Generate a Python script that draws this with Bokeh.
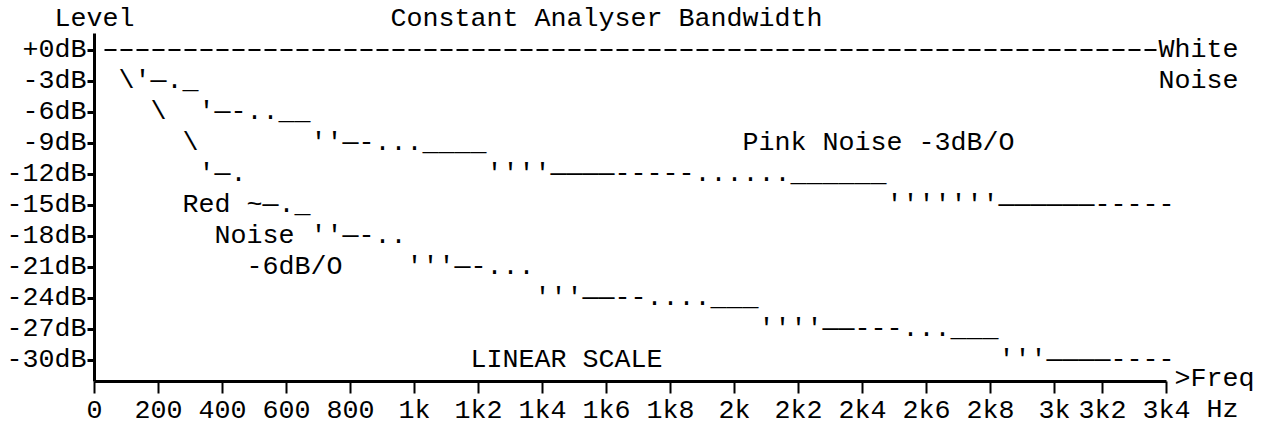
from bokeh.plotting import figure
from bokeh.models import FixedTicker, Range1d, ColumnDataSource, Label
from bokeh.core.properties import value
from bokeh.embed import file_html
from bokeh.resources import INLINE

# ---------------- data ----------------
ytick_db = [0, -3, -6, -9, -12, -15, -18, -21, -24, -27, -30]
ytick_lab = ["+0dB", "-3dB", "-6dB", "-9dB", "-12dB", "-15dB", "-18dB",
             "-21dB", "-24dB", "-27dB", "-30dB"]

xtick_hz = [0, 200, 400, 600, 800, 1000, 1200, 1400, 1600, 1800, 2000,
            2200, 2400, 2600, 2800, 3000, 3150, 3350]
xtick_lab = ["0", "200", "400", "600", "800", "1k", "1k2", "1k4", "1k6", "1k8",
             "2k", "2k2", "2k4", "2k6", "2k8", "3k", "3k2", "3k4"]

# level at which the frequency axis is drawn, top end of the level axis
x_axis_db = -32.1
y_axis_top_db = 1.6

# White noise: flat at 0 dB
white_hz = [50, 3300]
white_db = [0, 0]

# Pink noise -3dB/O (ASCII-art segments: start frequency, level, glyphs)
pink_hz = [150, 350, 700, 1250, 2500]
pink_db = [-3, -6, -9, -12, -15]
pink_txt = ["'\u2014._", "'\u2014-..__", "''\u2014-...____",
            "''''\u2014\u2014\u2014\u2014-----......______",
            "'''''''\u2014\u2014\u2014\u2014\u2014\u2014-----"]

# Red noise -6dB/O
red_hz = [100, 200, 300, 350, 500, 700, 1000, 1400, 2100, 2850]
red_db = [-3, -6, -9, -12, -15, -18, -21, -24, -27, -30]
red_txt = ["\\", "\\", "\\", "'\u2014.", "~\u2014._", "''\u2014-..", "'''\u2014-...",
           "'''\u2014\u2014--....___", "''''\u2014\u2014---...___",
           "'''\u2014\u2014\u2014\u2014----"]

# Curve annotations
note_hz = [3350, 3350, 2050, 300, 400, 500, 1200]
note_db = [0, -3, -9, -15, -18, -21, -30]
note_txt = ["White", "Noise", "Pink Noise -3dB/O", "Red", "Noise", "-6dB/O",
            "LINEAR SCALE"]

title_txt = "Constant Analyser Bandwidth"
title_hz, title_db = 1600, 3
ylabel_txt = "Level"
xlabel_txt = ">Freq"
xlabel_hz = 3400
xunit_txt = "Hz"
xunit_hz = 3500

# ---------------- style ----------------
FONT = "Liberation Mono"
FONT_PX = 26.67
FS = "%.2fpx" % FONT_PX
CHAR_W = 0.6 * FONT_PX
INK = "#000000"

W, H = 1268, 425
ORIGIN_X_PX = 94      # where 0 Hz sits
ZERO_DB_PX = 49.5     # where 0 dB sits (from top)
PX_PER_HZ = 0.32
PX_PER_DB = 31 / 3

x_range = Range1d(-ORIGIN_X_PX / PX_PER_HZ, (W - ORIGIN_X_PX) / PX_PER_HZ)
y_range = Range1d(-(H - ZERO_DB_PX) / PX_PER_DB, ZERO_DB_PX / PX_PER_DB)

p = figure(width=W, height=H, x_range=x_range, y_range=y_range,
           output_backend="svg", toolbar_location=None, title=None,
           min_border_left=0, min_border_right=0,
           min_border_top=0, min_border_bottom=0)
p.outline_line_color = None
p.grid.visible = False
p.background_fill_color = "white"
p.border_fill_color = "white"

# level axis
ya = p.yaxis[0]
ya.fixed_location = 0
ya.ticker = FixedTicker(ticks=ytick_db)
ya.major_label_overrides = {t: l for t, l in zip(ytick_db, ytick_lab)}
ya.bounds = (x_axis_db, y_axis_top_db)
ya.axis_line_width = 3
ya.axis_line_color = INK
ya.major_tick_line_width = 3
ya.major_tick_line_color = INK
ya.major_tick_out = 7
ya.major_tick_in = 0
ya.minor_tick_out = 0
ya.minor_tick_in = 0
ya.major_label_standoff = 1
ya.major_label_text_font = FONT
ya.major_label_text_font_size = FS
ya.major_label_text_color = INK

# frequency axis
xa = p.xaxis[0]
xa.fixed_location = x_axis_db
xa.ticker = FixedTicker(ticks=xtick_hz)
xa.major_label_overrides = {t: l for t, l in zip(xtick_hz, xtick_lab)}
xa.bounds = (0, xtick_hz[-1])
xa.axis_line_width = 3
xa.axis_line_color = INK
xa.major_tick_line_width = 2
xa.major_tick_line_color = INK
xa.major_tick_out = 12
xa.major_tick_in = 0
xa.minor_tick_out = 0
xa.minor_tick_in = 0
xa.major_label_standoff = 2
xa.major_label_text_font = FONT
xa.major_label_text_font_size = FS
xa.major_label_text_color = INK

# white noise line (dashed like hyphens)
half_cell = (CHAR_W / 2) / PX_PER_HZ
gap = 2 / PX_PER_HZ
p.line(x=[white_hz[0] - half_cell + gap, white_hz[1] + half_cell - gap], y=white_db,
       line_color=INK, line_width=2, line_dash="12 4")

txt_kw = dict(text_font=value(FONT), text_font_size=value(FS), text_color=INK,
              text_align="left", text_baseline="middle", x_offset=-CHAR_W / 2)

p.text(x="x", y="y", text="t", source=ColumnDataSource(dict(x=pink_hz, y=pink_db, t=pink_txt)), **txt_kw)
p.text(x="x", y="y", text="t", source=ColumnDataSource(dict(x=red_hz, y=red_db, t=red_txt)), **txt_kw)
p.text(x="x", y="y", text="t", source=ColumnDataSource(dict(x=note_hz, y=note_db, t=note_txt)), **txt_kw)

lab_kw = dict(text_font=FONT, text_font_size=FS, text_color=INK, text_baseline="middle")
p.add_layout(Label(x=0, y=title_db, text=ylabel_txt, text_align="center", **lab_kw))
p.add_layout(Label(x=title_hz, y=title_db, text=title_txt, text_align="center", **lab_kw))
p.add_layout(Label(x=xlabel_hz, y=x_axis_db, y_offset=3, text=xlabel_txt,
                   text_align="left", x_offset=-CHAR_W / 2, **lab_kw))
p.add_layout(Label(x=xunit_hz, y=x_axis_db, y_offset=-28, text=xunit_txt,
                   text_align="left", x_offset=-CHAR_W / 2, **lab_kw))

open("out.html", "w").write(file_html(p, INLINE))
